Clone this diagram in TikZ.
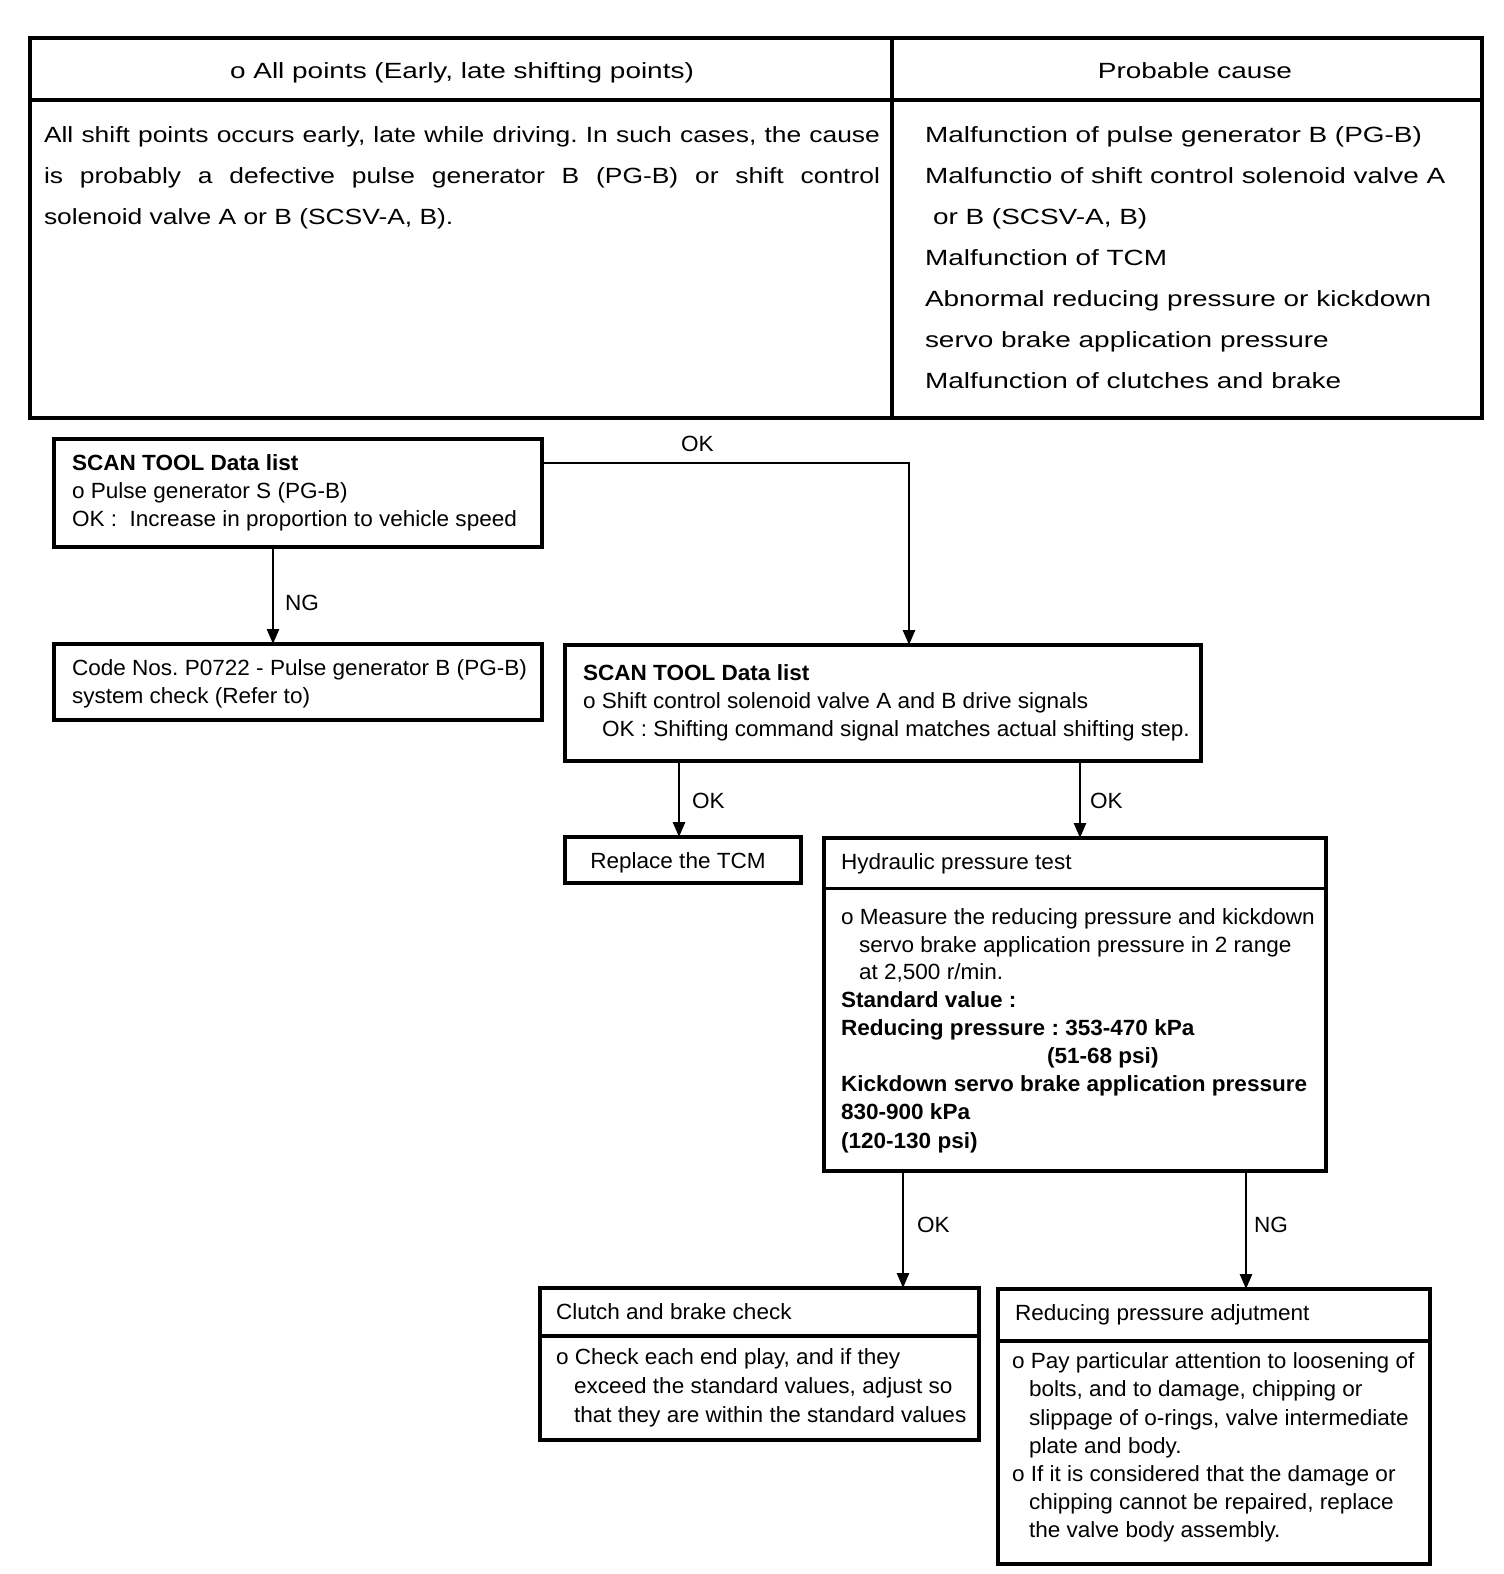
\documentclass[tikz,border=0pt]{standalone}
\usepackage{fontspec}
\setmainfont{Liberation Sans}[FakeStretch=1.025]
\newfontfamily\tabfont[FakeStretch=1.27]{Liberation Sans}
\newfontfamily\bodyfont[FakeStretch=1.2]{Liberation Sans}
\usetikzlibrary{arrows.meta}
\frenchspacing
\begin{document}
\begin{tikzpicture}[x=1pt,y=-1pt,
  box/.style={draw, line width=3.3pt, inner sep=0pt, outer sep=0pt, anchor=north west},
  txt/.style={anchor=base west, inner sep=0pt, outer sep=0pt, font=\fontsize{22pt}{28pt}\selectfont},
  ttxt/.style={anchor=base west, inner sep=0pt, outer sep=0pt, font=\tabfont\fontsize{22pt}{28pt}\selectfont},
  btxt/.style={anchor=base west, inner sep=0pt, outer sep=0pt, font=\bodyfont\fontsize{22pt}{28pt}\selectfont},
  arr/.style={line width=2.8pt, -{Triangle[length=15pt,width=12pt]}},
  rule/.style={line width=3.3pt}]
\useasboundingbox (0,0) rectangle (1504,1574);

% ---------- table ----------
\node[box, minimum width=1452pt, minimum height=380pt] (tab) at (30,38) {};
\draw[rule] ([yshift=-62pt]tab.north west) -- ([yshift=-62pt]tab.north east);
\draw[rule] ([xshift=862pt]tab.north west) -- ([xshift=862pt]tab.south west);

\node[ttxt, anchor=base] (h1) at (462,78) {o All points (Early, late shifting points)};
\node[ttxt, anchor=base] (h2) at (1195,78) {Probable cause};

\node[btxt] (l1) at (44,142) {\makebox[836pt][s]{All shift points occurs early, late while driving. In such cases, the cause}};
\node[btxt] (l2) at (44,183) {\makebox[836pt][s]{is probably a defective pulse generator B (PG-B) or shift control}};
\node[btxt] (l3) at (44,224) {solenoid valve A or B (SCSV-A, B).};

\node[ttxt] (r1) at (925,142) {Malfunction of pulse generator B (PG-B)};
\node[ttxt] (r2) at (925,183) {Malfunctio of shift control solenoid valve A};
\node[ttxt] (r3) at (933,224) {or B (SCSV-A, B)};
\node[ttxt] (r4) at (925,265) {Malfunction of TCM};
\node[ttxt] (r5) at (925,306) {Abnormal reducing pressure or kickdown};
\node[ttxt] (r6) at (925,347) {servo brake application pressure};
\node[ttxt] (r7) at (925,388) {Malfunction of clutches and brake};

% ---------- flowchart boxes ----------
\node[box, minimum width=488pt, minimum height=108pt] (b1) at (54,439) {};
\node[box, minimum width=488pt, minimum height=76pt] (b2) at (54,644) {};
\node[box, minimum width=636pt, minimum height=116pt] (b3) at (565,645) {};
\node[box, minimum width=236pt, minimum height=46pt] (b4) at (565,837) {};
\node[box, minimum width=502pt, minimum height=333pt] (b5) at (824,838) {};
\node[box, minimum width=439pt, minimum height=152pt] (b6) at (540,1288) {};
\node[box, minimum width=432pt, minimum height=275pt] (b7) at (998,1289) {};
\draw[rule] ([yshift=-50.5pt]b5.north west) -- ([yshift=-50.5pt]b5.north east);
\draw[rule] ([yshift=-48pt]b6.north west) -- ([yshift=-48pt]b6.north east);
\draw[rule] ([yshift=-52pt]b7.north west) -- ([yshift=-52pt]b7.north east);

% box 1
\node[txt] (b1a) at (72,470) {\bfseries SCAN TOOL Data list};
\node[txt] (b1b) at (72,498) {o Pulse generator S (PG-B)};
\node[txt] (b1c) at (72,526) {OK :\ \ Increase in proportion to vehicle speed};
% box 2
\node[txt] (b2a) at (72,675) {Code Nos. P0722 - Pulse generator B (PG-B)};
\node[txt] (b2b) at (72,703) {system check (Refer to)};
% box 3
\node[txt] (b3a) at (583,680) {\bfseries SCAN TOOL Data list};
\node[txt] (b3b) at (583,708) {o Shift control solenoid valve A and B drive signals};
\node[txt] (b3c) at (602,736) {OK : Shifting command signal matches actual shifting step.};
% box 4
\node[txt, anchor=base] (b4a) at (678,868) {Replace the TCM};
% box 5
\node[txt] (b5h) at (841,869) {Hydraulic pressure test};
\node[txt] (b5a) at (841,924) {o Measure the reducing pressure and kickdown};
\node[txt] (b5b) at (859,952) {servo brake application pressure in 2 range};
\node[txt] (b5c) at (859,979) {at 2,500 r/min.};
\node[txt] (b5d) at (841,1007) {\bfseries Standard value :};
\node[txt] (b5e) at (841,1035) {\bfseries Reducing pressure : 353-470 kPa};
\node[txt] (b5f) at (1047,1063) {\bfseries (51-68 psi)};
\node[txt] (b5g) at (841,1091) {\bfseries Kickdown servo brake application pressure};
\node[txt] (b5i) at (841,1119) {\bfseries 830-900 kPa};
\node[txt] (b5j) at (841,1148) {\bfseries (120-130 psi)};
% box 6
\node[txt] (b6h) at (556,1319) {Clutch and brake check};
\node[txt] (b6a) at (556,1364) {o Check each end play, and if they};
\node[txt] (b6b) at (574,1393) {exceed the standard values, adjust so};
\node[txt] (b6c) at (574,1422) {that they are within the standard values};
% box 7
\node[txt] (b7h) at (1015,1320) {Reducing pressure adjutment};
\node[txt] (b7a) at (1012,1368) {o Pay particular attention to loosening of};
\node[txt] (b7b) at (1029,1396) {bolts, and to damage, chipping or};
\node[txt] (b7c) at (1029,1425) {slippage of o-rings, valve intermediate};
\node[txt] (b7d) at (1029,1453) {plate and body.};
\node[txt] (b7e) at (1012,1481) {o If it is considered that the damage or};
\node[txt] (b7f) at (1029,1509) {chipping cannot be repaired, replace};
\node[txt] (b7g) at (1029,1537) {the valve body assembly.};

% ---------- connectors ----------
\draw[arr] ([xshift=219pt]b1.south west) -- ([xshift=219pt]b2.north west);
\draw[arr] ([yshift=-24pt]b1.north east) -| ([xshift=344pt]b3.north west);
\draw[arr] ([xshift=114pt]b3.south west) -- ([xshift=114pt]b4.north west);
\draw[arr] ([xshift=515pt]b3.south west) -- ([xshift=256pt]b5.north west);
\draw[arr] ([xshift=79pt]b5.south west) -- ([xshift=363pt]b6.north west);
\draw[arr] ([xshift=422pt]b5.south west) -- ([xshift=248pt]b7.north west);

% labels
\node[txt] (ng1) at (285,610) {NG};
\node[txt] (ok1) at (681,451) {OK};
\node[txt] (ok2) at (692,808) {OK};
\node[txt] (ok3) at (1090,808) {OK};
\node[txt] (ok4) at (917,1232) {OK};
\node[txt] (ng2) at (1254,1232) {NG};
\end{tikzpicture}
\end{document}
